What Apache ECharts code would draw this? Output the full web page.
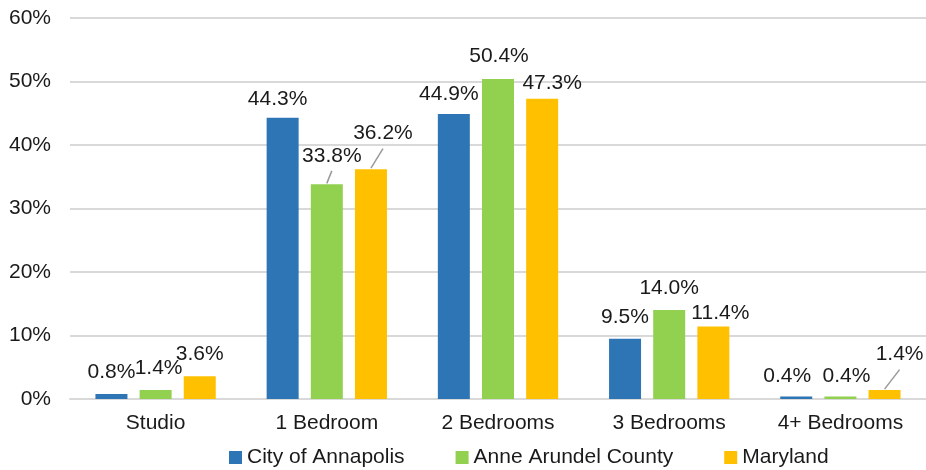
<!DOCTYPE html>
<html>
<head>
<meta charset="utf-8">
<script src="https://cdn.jsdelivr.net/npm/echarts@6/dist/echarts.min.js"></script>
<style>
  html, body { margin: 0; padding: 0; background: #fff; }
  #chart { width: 926px; height: 470px; }
</style>
</head>
<body>
<div id="chart"></div>
<script>
// unit mix by bedroom count, percent
const categories = ['Studio', '1 Bedroom', '2 Bedrooms', '3 Bedrooms', '4+ Bedrooms']
const annapolis = [0.8, 44.3, 44.9, 9.5, 0.4]
const anneArundel = [1.4, 33.8, 50.4, 14.0, 0.4]
const maryland = [3.6, 36.2, 47.3, 11.4, 1.4]
const seriesNames = ['City of Annapolis', 'Anne Arundel County', 'Maryland']

const textColor = '#1a1a1a'
const font = 'Liberation Sans, Arial, sans-serif'

// label nudges 'series-dataIndex' -> [dx, dy, leader line]
const nudges = {
  '0-1': [-5, 3, false],
  '0-2': [-5, 2, false],
  '0-4': [-9, 1, false],
  '1-0': [3, 0, false],
  '1-1': [5, -7, true],
  '1-2': [1, -1, false],
  '1-4': [6, 1, false],
  '2-1': [12, -14, true],
  '2-2': [10, 6, false],
  '2-3': [7, 8, false],
  '2-4': [15, -14, true],
}

function makeSeries(name, values, color) {
  return {
    name: name,
    type: 'bar',
    barWidth: 32,
    barGap: '38%',
    itemStyle: { color: color },
    label: {
      show: true,
      position: 'top',
      distance: 11,
      color: textColor,
      fontFamily: font,
      fontSize: 21,
      formatter: (p) => p.value.toFixed(1) + '%',
    },
    data: values,
  }
}

const chart = echarts.init(document.getElementById('chart'))
chart.setOption({
  animation: false,
  textStyle: { fontFamily: font },
  grid: { left: 70, right: 0, top: 18, bottom: 71 },
  legend: {
    data: seriesNames,
    left: 224,
    top: 442,
    itemWidth: 13,
    itemHeight: 13,
    itemGap: 51,
    icon: 'rect',
    textStyle: { color: textColor, fontSize: 21, fontFamily: font },
  },
  xAxis: {
    type: 'category',
    data: categories,
    axisTick: { show: false },
    axisLine: { lineStyle: { color: '#d9d9d9', width: 2 } },
    axisLabel: { color: textColor, fontSize: 21, fontFamily: font, margin: 14 },
  },
  yAxis: {
    type: 'value',
    min: 0,
    max: 60,
    interval: 10,
    axisLine: { show: false },
    axisTick: { show: false },
    splitLine: { lineStyle: { color: '#d9d9d9', width: 2 } },
    axisLabel: {
      color: textColor,
      fontSize: 21,
      fontFamily: font,
      margin: 19,
      formatter: '{value}%',
    },
  },
  labelLayout: (p) => {
    const n = nudges[p.seriesIndex + '-' + p.dataIndex]
    return n ? { dx: n[0], dy: n[1] } : {}
  },
  series: [
    makeSeries(seriesNames[0], annapolis, '#2e75b6'),
    makeSeries(seriesNames[1], anneArundel, '#92d050'),
    makeSeries(seriesNames[2], maryland, '#ffc000'),
  ],
})

// leader lines for the moved labels, from the bar top (library layout) to under the label
const leaders = []
Object.keys(nudges).forEach((key) => {
  const n = nudges[key]
  if (!n[2]) return
  const [si, di] = key.split('-').map(Number)
  const lay = chart.getModel().getSeriesByIndex(si).getData().getItemLayout(di)
  const cx = lay.x + lay.width / 2
  const top = Math.min(lay.y, lay.y + lay.height)
  leaders.push({
    type: 'line',
    shape: { x1: cx, y1: top - 1, x2: cx + n[0], y2: top + n[1] - 6.5 },
    style: { stroke: '#999999', lineWidth: 1.5 },
    silent: true,
  })
})
chart.setOption({ graphic: leaders })
</script>
</body>
</html>
